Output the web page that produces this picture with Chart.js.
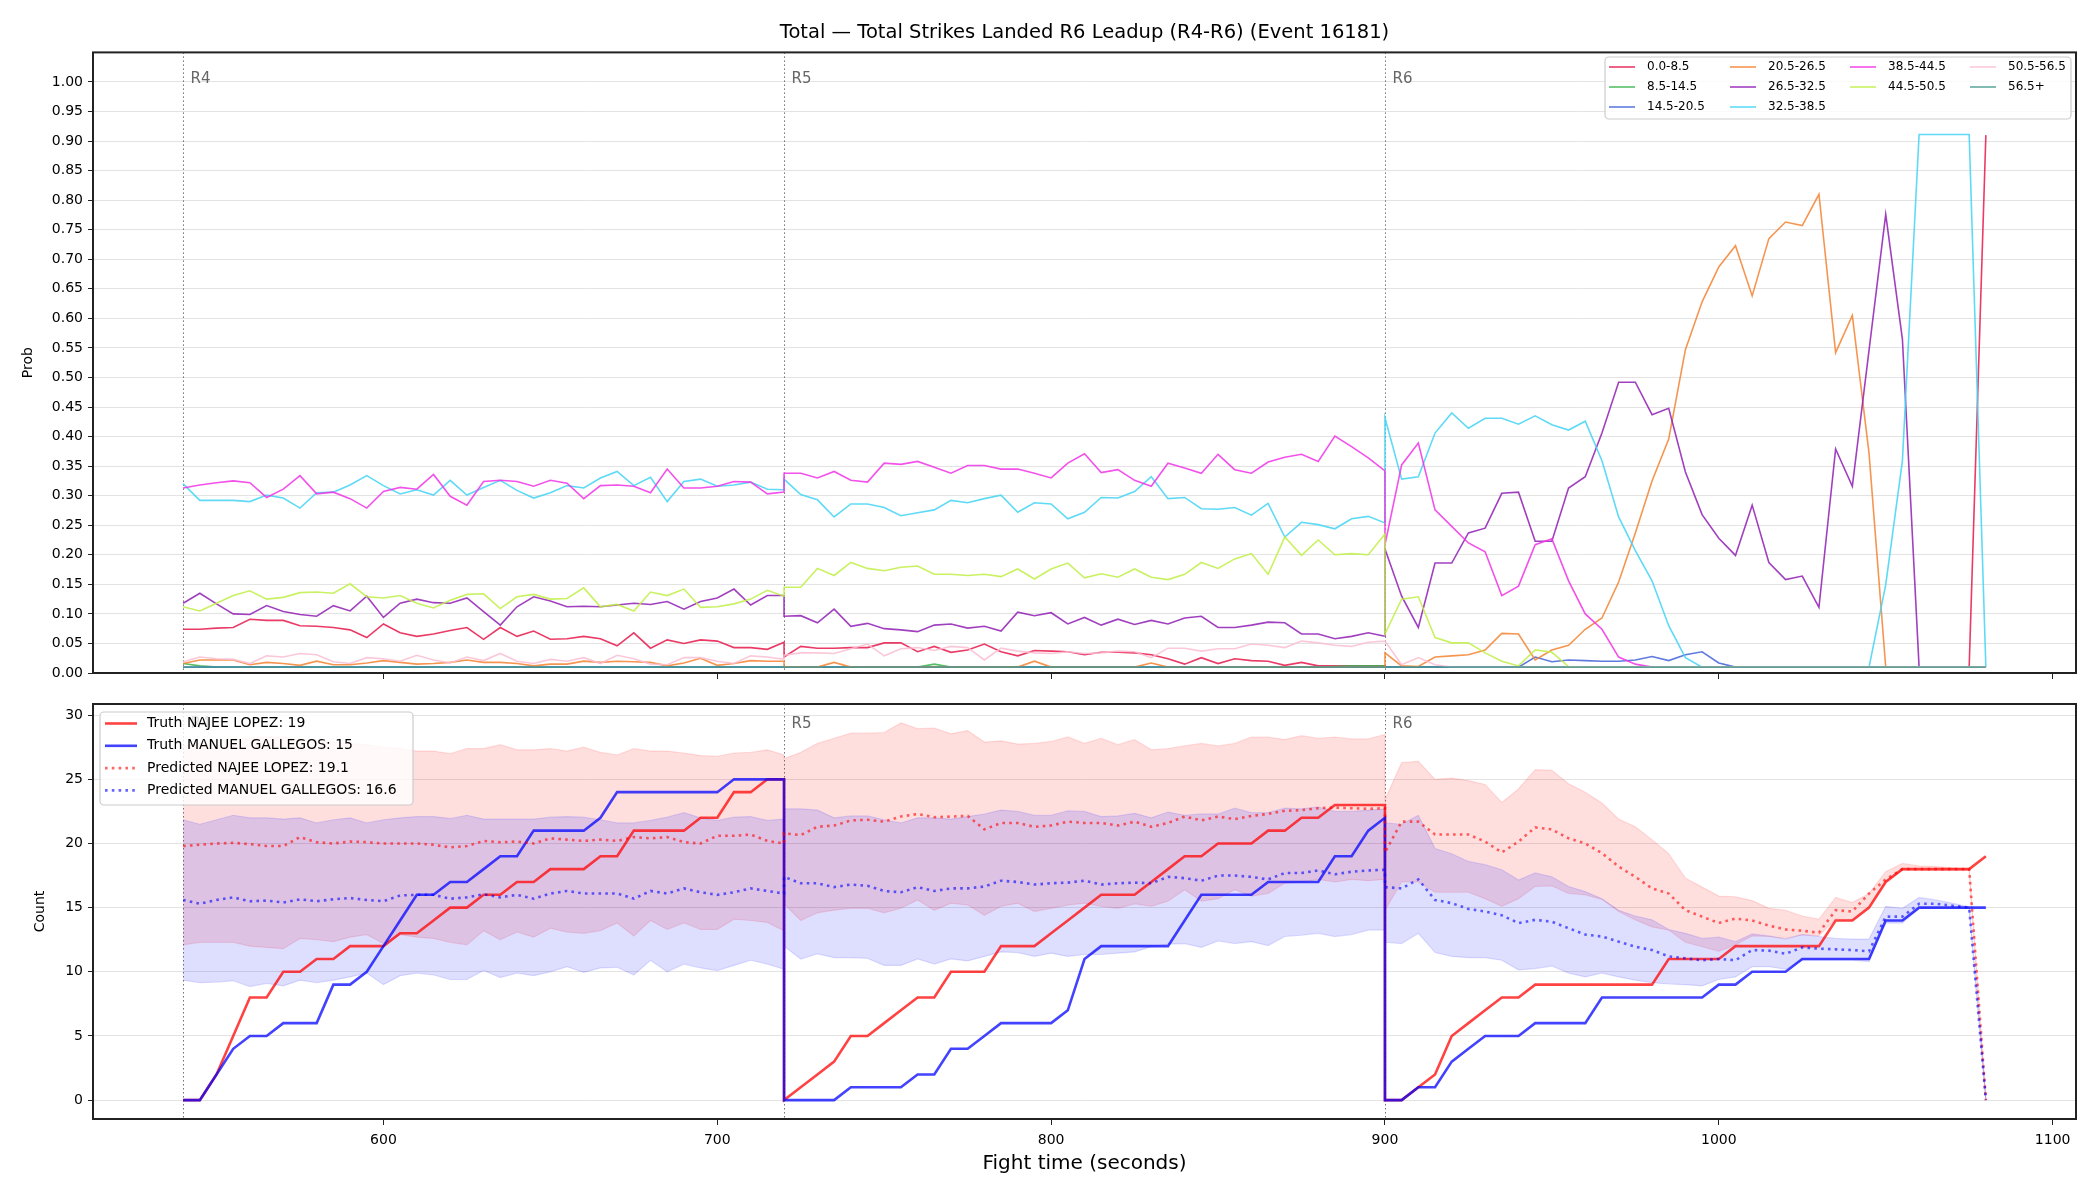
<!DOCTYPE html>
<html>
<head>
<meta charset="utf-8">
<title>Total Strikes Landed R6 Leadup</title>
<script src="https://cdn.jsdelivr.net/npm/chart.js@4.4.1/dist/chart.umd.min.js"></script>
<style>
  html, body { margin: 0; padding: 0; background: #fff; }
  #wrap { position: relative; width: 2100px; height: 1200px; }
  #probChart { position: absolute; left: 0; top: 0; }
  #countChart { position: absolute; left: 0; top: 690px; }
</style>
</head>
<body>
<div id="wrap">
  <canvas id="probChart" width="2100" height="690"></canvas>
  <canvas id="countChart" width="2100" height="510"></canvas>
</div>
<script>
// sample times (seconds), rounds R4 / R5 / R6, one sample every 5 s
const times = [
  540, 545, 550, 555, 560, 565, 570, 575, 580, 585, 590, 595, 600, 605, 610, 615, 620, 625, 630, 635, 640, 645, 650, 655, 660, 665, 670, 675, 680, 685, 690, 695, 700, 705, 710, 715, 720,
  720, 725, 730, 735, 740, 745, 750, 755, 760, 765, 770, 775, 780, 785, 790, 795, 800, 805, 810, 815, 820, 825, 830, 835, 840, 845, 850, 855, 860, 865, 870, 875, 880, 885, 890, 895, 900,
  900, 905, 910, 915, 920, 925, 930, 935, 940, 945, 950, 955, 960, 965, 970, 975, 980, 985, 990, 995, 1000, 1005, 1010, 1015, 1020, 1025, 1030, 1035, 1040, 1045, 1050, 1055, 1060, 1065, 1070, 1075, 1080
]
const roundStarts = [540, 720, 900]
const roundNames = ["R4", "R5", "R6"]

const buckets = ["0.0-8.5", "8.5-14.5", "14.5-20.5", "20.5-26.5", "26.5-32.5", "32.5-38.5", "38.5-44.5", "44.5-50.5", "50.5-56.5", "56.5+"]
const bucketColors = ["#e6194b", "#3cb44b", "#4363d8", "#f58231", "#911eb4", "#42d4f4", "#f032e6", "#bfef45", "#fabed4", "#469990"]

const p0_8 = [
  0.074, 0.074, 0.076, 0.077, 0.091, 0.089, 0.089, 0.080, 0.079, 0.077, 0.073, 0.060, 0.083, 0.068, 0.062, 0.066, 0.072, 0.077, 0.057, 0.077, 0.062, 0.071, 0.057, 0.058, 0.062, 0.058, 0.046, 0.068, 0.042, 0.056, 0.050, 0.056, 0.054, 0.043, 0.043, 0.040, 0.052,
  0.027, 0.045, 0.042, 0.042, 0.043, 0.043, 0.051, 0.051, 0.036, 0.045, 0.035, 0.039, 0.049, 0.036, 0.029, 0.038, 0.037, 0.036, 0.031, 0.035, 0.035, 0.034, 0.031, 0.024, 0.015, 0.026, 0.016, 0.024, 0.021, 0.020, 0.013, 0.018, 0.012, 0.012, 0.012, 0.012, 0.012,
  0.010, 0.010, 0.010, 0.010, 0.010, 0.010, 0.010, 0.010, 0.010, 0.010, 0.010, 0.010, 0.010, 0.010, 0.010, 0.010, 0.010, 0.010, 0.010, 0.010, 0.010, 0.010, 0.010, 0.010, 0.010, 0.010, 0.010, 0.010, 0.010, 0.010, 0.010, 0.010, 0.010, 0.010, 0.010, 0.010, 0.910
]
const p8_14 = [
  0.016, 0.012, 0.010, 0.010, 0.010, 0.010, 0.010, 0.010, 0.010, 0.010, 0.010, 0.010, 0.010, 0.010, 0.010, 0.010, 0.010, 0.010, 0.010, 0.010, 0.010, 0.010, 0.010, 0.010, 0.010, 0.010, 0.010, 0.010, 0.010, 0.010, 0.010, 0.010, 0.010, 0.010, 0.010, 0.010, 0.010,
  0.010, 0.010, 0.010, 0.010, 0.010, 0.010, 0.010, 0.010, 0.010, 0.015, 0.010, 0.010, 0.010, 0.010, 0.010, 0.010, 0.010, 0.010, 0.010, 0.010, 0.010, 0.010, 0.010, 0.010, 0.010, 0.010, 0.010, 0.010, 0.010, 0.010, 0.010, 0.010, 0.010, 0.011, 0.012, 0.012, 0.012,
  0.010, 0.010, 0.010, 0.010, 0.010, 0.010, 0.010, 0.010, 0.010, 0.010, 0.010, 0.010, 0.010, 0.010, 0.010, 0.010, 0.010, 0.010, 0.010, 0.010, 0.010, 0.010, 0.010, 0.010, 0.010, 0.010, 0.010, 0.010, 0.010, 0.010, 0.010, 0.010, 0.010, 0.010, 0.010, 0.010, 0.010
]
const p14_20 = [
  0.010, 0.010, 0.010, 0.010, 0.010, 0.010, 0.010, 0.010, 0.010, 0.010, 0.010, 0.010, 0.010, 0.010, 0.010, 0.010, 0.010, 0.010, 0.010, 0.010, 0.010, 0.010, 0.010, 0.010, 0.010, 0.010, 0.010, 0.010, 0.010, 0.010, 0.010, 0.010, 0.010, 0.010, 0.010, 0.010, 0.010,
  0.010, 0.010, 0.010, 0.010, 0.010, 0.010, 0.010, 0.010, 0.010, 0.010, 0.010, 0.010, 0.010, 0.010, 0.010, 0.010, 0.010, 0.010, 0.010, 0.010, 0.010, 0.010, 0.010, 0.010, 0.010, 0.010, 0.010, 0.010, 0.010, 0.010, 0.010, 0.010, 0.010, 0.010, 0.010, 0.010, 0.010,
  0.010, 0.010, 0.010, 0.010, 0.010, 0.010, 0.010, 0.010, 0.010, 0.027, 0.019, 0.022, 0.021, 0.020, 0.020, 0.022, 0.028, 0.021, 0.031, 0.036, 0.017, 0.010, 0.010, 0.010, 0.010, 0.010, 0.010, 0.010, 0.010, 0.010, 0.010, 0.010, 0.010, 0.010, 0.010, 0.010, 0.010
]
const p20_26 = [
  0.016, 0.022, 0.022, 0.022, 0.014, 0.018, 0.016, 0.013, 0.020, 0.014, 0.014, 0.017, 0.021, 0.018, 0.015, 0.016, 0.018, 0.022, 0.018, 0.018, 0.016, 0.012, 0.015, 0.015, 0.020, 0.018, 0.020, 0.019, 0.018, 0.012, 0.017, 0.025, 0.013, 0.016, 0.021, 0.020, 0.020,
  0.011, 0.010, 0.010, 0.018, 0.010, 0.010, 0.010, 0.010, 0.010, 0.010, 0.010, 0.010, 0.010, 0.010, 0.010, 0.020, 0.010, 0.010, 0.010, 0.010, 0.010, 0.010, 0.017, 0.010, 0.010, 0.010, 0.010, 0.010, 0.010, 0.010, 0.010, 0.010, 0.010, 0.010, 0.010, 0.010, 0.010,
  0.034, 0.012, 0.011, 0.027, 0.029, 0.031, 0.039, 0.067, 0.066, 0.022, 0.039, 0.047, 0.074, 0.093, 0.154, 0.237, 0.325, 0.396, 0.547, 0.628, 0.687, 0.723, 0.638, 0.735, 0.763, 0.757, 0.810, 0.542, 0.605, 0.372, 0.010, 0.010, 0.010, 0.010, 0.010, 0.010, 0.010
]
const p26_32 = [
  0.118, 0.135, 0.117, 0.100, 0.099, 0.114, 0.104, 0.099, 0.096, 0.114, 0.105, 0.130, 0.094, 0.118, 0.125, 0.119, 0.118, 0.127, 0.104, 0.081, 0.112, 0.129, 0.122, 0.112, 0.113, 0.112, 0.115, 0.118, 0.116, 0.121, 0.108, 0.121, 0.127, 0.142, 0.115, 0.131, 0.131,
  0.096, 0.097, 0.085, 0.108, 0.079, 0.084, 0.075, 0.073, 0.070, 0.081, 0.083, 0.076, 0.079, 0.071, 0.103, 0.097, 0.102, 0.083, 0.094, 0.081, 0.091, 0.082, 0.089, 0.083, 0.093, 0.096, 0.077, 0.077, 0.081, 0.086, 0.085, 0.066, 0.066, 0.058, 0.062, 0.068, 0.062,
  0.210, 0.130, 0.077, 0.186, 0.186, 0.237, 0.245, 0.304, 0.306, 0.223, 0.223, 0.313, 0.332, 0.406, 0.492, 0.492, 0.437, 0.448, 0.340, 0.268, 0.228, 0.199, 0.284, 0.187, 0.158, 0.164, 0.111, 0.379, 0.316, 0.546, 0.776, 0.565, 0.010, 0.010, 0.010, 0.010, 0.010
]
const p32_38 = [
  0.320, 0.292, 0.292, 0.292, 0.290, 0.301, 0.296, 0.279, 0.305, 0.306, 0.318, 0.334, 0.317, 0.303, 0.310, 0.301, 0.326, 0.301, 0.314, 0.326, 0.309, 0.296, 0.305, 0.317, 0.313, 0.330, 0.341, 0.317, 0.331, 0.290, 0.324, 0.328, 0.316, 0.318, 0.323, 0.311, 0.310,
  0.328, 0.302, 0.293, 0.264, 0.286, 0.286, 0.280, 0.266, 0.271, 0.276, 0.292, 0.288, 0.295, 0.301, 0.272, 0.288, 0.286, 0.261, 0.272, 0.297, 0.296, 0.307, 0.332, 0.295, 0.297, 0.278, 0.277, 0.280, 0.267, 0.287, 0.230, 0.255, 0.251, 0.244, 0.261, 0.265, 0.254,
  0.432, 0.328, 0.332, 0.406, 0.440, 0.414, 0.431, 0.431, 0.421, 0.435, 0.420, 0.411, 0.426, 0.359, 0.264, 0.207, 0.156, 0.080, 0.026, 0.010, 0.010, 0.010, 0.010, 0.010, 0.010, 0.010, 0.010, 0.010, 0.010, 0.010, 0.149, 0.359, 0.911, 0.911, 0.911, 0.911, 0.010
]
const p38_44 = [
  0.313, 0.318, 0.322, 0.325, 0.322, 0.297, 0.311, 0.334, 0.303, 0.306, 0.295, 0.279, 0.307, 0.314, 0.311, 0.336, 0.299, 0.284, 0.324, 0.326, 0.324, 0.316, 0.326, 0.321, 0.295, 0.317, 0.318, 0.316, 0.305, 0.345, 0.313, 0.313, 0.316, 0.324, 0.323, 0.303, 0.306,
  0.338, 0.338, 0.330, 0.341, 0.326, 0.323, 0.355, 0.353, 0.358, 0.348, 0.338, 0.351, 0.351, 0.345, 0.345, 0.338, 0.330, 0.355, 0.371, 0.339, 0.344, 0.326, 0.316, 0.355, 0.347, 0.338, 0.370, 0.344, 0.338, 0.357, 0.365, 0.370, 0.358, 0.401, 0.383, 0.364, 0.342,
  0.217, 0.352, 0.389, 0.276, 0.248, 0.220, 0.205, 0.131, 0.147, 0.217, 0.227, 0.156, 0.100, 0.074, 0.027, 0.015, 0.010, 0.010, 0.010, 0.010, 0.010, 0.010, 0.010, 0.010, 0.010, 0.010, 0.010, 0.010, 0.010, 0.010, 0.010, 0.010, 0.010, 0.010, 0.010, 0.010, 0.010
]
const p44_50 = [
  0.112, 0.105, 0.118, 0.131, 0.139, 0.125, 0.128, 0.136, 0.137, 0.135, 0.151, 0.129, 0.127, 0.131, 0.118, 0.110, 0.123, 0.133, 0.134, 0.109, 0.129, 0.133, 0.125, 0.126, 0.144, 0.112, 0.116, 0.105, 0.137, 0.131, 0.142, 0.111, 0.112, 0.117, 0.125, 0.140, 0.130,
  0.145, 0.145, 0.177, 0.165, 0.187, 0.177, 0.173, 0.179, 0.181, 0.167, 0.167, 0.165, 0.167, 0.163, 0.176, 0.159, 0.176, 0.186, 0.161, 0.168, 0.162, 0.176, 0.162, 0.158, 0.167, 0.187, 0.177, 0.193, 0.202, 0.167, 0.230, 0.199, 0.225, 0.200, 0.202, 0.200, 0.235,
  0.066, 0.125, 0.129, 0.060, 0.051, 0.051, 0.034, 0.020, 0.012, 0.039, 0.035, 0.011, 0.010, 0.010, 0.010, 0.010, 0.010, 0.010, 0.010, 0.010, 0.010, 0.010, 0.010, 0.010, 0.010, 0.010, 0.010, 0.010, 0.010, 0.010, 0.010, 0.010, 0.010, 0.010, 0.010, 0.010, 0.010
]
const p50_56 = [
  0.019, 0.027, 0.024, 0.023, 0.016, 0.029, 0.027, 0.033, 0.031, 0.019, 0.016, 0.026, 0.024, 0.020, 0.030, 0.022, 0.017, 0.027, 0.021, 0.033, 0.020, 0.016, 0.023, 0.020, 0.026, 0.016, 0.030, 0.024, 0.015, 0.014, 0.026, 0.026, 0.020, 0.016, 0.029, 0.027, 0.023,
  0.030, 0.034, 0.034, 0.033, 0.041, 0.049, 0.029, 0.041, 0.043, 0.038, 0.045, 0.043, 0.022, 0.042, 0.037, 0.034, 0.033, 0.036, 0.033, 0.034, 0.037, 0.036, 0.026, 0.042, 0.042, 0.037, 0.041, 0.041, 0.049, 0.047, 0.043, 0.054, 0.051, 0.047, 0.045, 0.052, 0.054,
  0.054, 0.014, 0.026, 0.014, 0.010, 0.010, 0.010, 0.010, 0.010, 0.010, 0.010, 0.010, 0.010, 0.010, 0.010, 0.010, 0.010, 0.010, 0.010, 0.010, 0.010, 0.010, 0.010, 0.010, 0.010, 0.010, 0.010, 0.010, 0.010, 0.010, 0.010, 0.010, 0.010, 0.010, 0.010, 0.010, 0.010
]
const p56plus = [
  0.010, 0.010, 0.010, 0.010, 0.010, 0.010, 0.010, 0.010, 0.010, 0.010, 0.010, 0.010, 0.010, 0.010, 0.010, 0.010, 0.010, 0.010, 0.010, 0.010, 0.010, 0.010, 0.010, 0.010, 0.010, 0.010, 0.010, 0.010, 0.010, 0.010, 0.010, 0.010, 0.010, 0.010, 0.010, 0.010, 0.010,
  0.010, 0.010, 0.010, 0.010, 0.010, 0.010, 0.010, 0.010, 0.010, 0.010, 0.010, 0.010, 0.010, 0.010, 0.010, 0.010, 0.010, 0.010, 0.010, 0.010, 0.010, 0.010, 0.010, 0.010, 0.010, 0.010, 0.010, 0.010, 0.010, 0.010, 0.010, 0.010, 0.010, 0.010, 0.010, 0.010, 0.010,
  0.010, 0.010, 0.010, 0.010, 0.010, 0.010, 0.010, 0.010, 0.010, 0.010, 0.010, 0.010, 0.010, 0.010, 0.010, 0.010, 0.010, 0.010, 0.010, 0.010, 0.010, 0.010, 0.010, 0.010, 0.010, 0.010, 0.010, 0.010, 0.010, 0.010, 0.010, 0.010, 0.010, 0.010, 0.010, 0.010, 0.010
]
const bucketProbs = [p0_8, p8_14, p14_20, p20_26, p26_32, p32_38, p38_44, p44_50, p50_56, p56plus]

// bottom panel: cumulative counts per fighter
const fighterA = "NAJEE LOPEZ"
const fighterB = "MANUEL GALLEGOS"
const truthA = [
  0, 0, 2, 5, 8, 8, 10, 10, 11, 11, 12, 12, 12, 13, 13, 14, 15, 15, 16, 16, 17, 17, 18, 18, 18, 19, 19, 21, 21, 21, 21, 22, 22, 24, 24, 25, 25,
  0, 1, 2, 3, 5, 5, 6, 7, 8, 8, 10, 10, 10, 12, 12, 12, 13, 14, 15, 16, 16, 16, 17, 18, 19, 19, 20, 20, 20, 21, 21, 22, 22, 23, 23, 23, 23,
  0, 0, 1, 2, 5, 6, 7, 8, 8, 9, 9, 9, 9, 9, 9, 9, 9, 11, 11, 11, 11, 12, 12, 12, 12, 12, 12, 14, 14, 15, 17, 18, 18, 18, 18, 18, 19
]
const truthB = [
  0, 0, 2, 4, 5, 5, 6, 6, 6, 9, 9, 10, 12, 14, 16, 16, 17, 17, 18, 19, 19, 21, 21, 21, 21, 22, 24, 24, 24, 24, 24, 24, 24, 25, 25, 25, 25,
  0, 0, 0, 0, 1, 1, 1, 1, 2, 2, 4, 4, 5, 6, 6, 6, 6, 7, 11, 12, 12, 12, 12, 12, 14, 16, 16, 16, 16, 17, 17, 17, 17, 19, 19, 21, 22,
  0, 0, 1, 1, 3, 4, 5, 5, 5, 6, 6, 6, 6, 8, 8, 8, 8, 8, 8, 8, 9, 9, 10, 10, 10, 11, 11, 11, 11, 11, 14, 14, 15, 15, 15, 15, 15
]
const predA = [
  19.8, 19.9, 20.0, 20.05, 19.95, 19.8, 19.8, 20.5, 20.1, 20.0, 20.15, 20.1, 20.0, 20.0, 20.0, 19.9, 19.7, 19.8, 20.2, 20.1, 20.15, 20.0, 20.4, 20.3, 20.2, 20.3, 20.2, 20.5, 20.4, 20.5, 20.1, 20.0, 20.6, 20.6, 20.7, 20.2, 20.0,
  20.8, 20.65, 21.3, 21.4, 21.8, 21.85, 21.7, 22.1, 22.3, 22.05, 22.1, 22.15, 21.1, 21.6, 21.6, 21.3, 21.4, 21.7, 21.6, 21.6, 21.4, 21.7, 21.3, 21.6, 22.1, 21.8, 22.1, 21.9, 22.15, 22.3, 22.55, 22.6, 22.75, 22.8, 22.75, 22.7, 22.75,
  19.3, 21.7, 21.7, 20.7, 20.7, 20.7, 20.15, 19.3, 20.15, 21.25, 21.1, 20.4, 20.0, 19.25, 18.2, 17.4, 16.5, 16.1, 14.8, 14.3, 13.8, 14.15, 14.0, 13.6, 13.3, 13.2, 13.05, 14.8, 14.7, 16.1, 17.2, 18.0, 18.0, 18.0, 18.0, 18.0, 0
]
const predB = [
  15.6, 15.3, 15.6, 15.8, 15.5, 15.55, 15.4, 15.65, 15.5, 15.65, 15.75, 15.6, 15.5, 15.95, 16.0, 16.0, 15.7, 15.8, 16.05, 15.8, 16.0, 15.7, 16.1, 16.3, 16.1, 16.1, 16.1, 15.7, 16.3, 16.1, 16.5, 16.2, 16.0, 16.2, 16.5, 16.3, 16.1,
  17.4, 16.9, 16.9, 16.6, 16.8, 16.7, 16.3, 16.2, 16.6, 16.3, 16.5, 16.5, 16.65, 17.1, 17.0, 16.8, 16.9, 16.95, 17.1, 16.8, 16.9, 16.95, 16.9, 17.4, 17.3, 17.1, 17.5, 17.5, 17.4, 17.2, 17.7, 17.7, 17.9, 17.6, 17.8, 17.9, 17.95,
  16.6, 16.5, 17.2, 15.6, 15.35, 14.9, 14.7, 14.4, 13.8, 14.05, 13.9, 13.4, 12.9, 12.75, 12.35, 11.95, 11.7, 11.2, 11.05, 10.9, 11.0, 10.9, 11.7, 11.65, 11.4, 11.9, 11.8, 11.75, 11.7, 11.6, 14.3, 14.3, 15.3, 15.3, 15.15, 15.0, 0
]
const bandAHigh = [
  27.6, 27.8, 28.0, 28.1, 28.2, 28.3, 28.3, 28.1, 28.0, 27.9, 27.8, 27.7, 27.5, 27.4, 27.2, 27.2, 27.0, 27.4, 27.4, 27.7, 27.3, 27.3, 27.4, 27.2, 27.5, 27.1, 26.9, 27.4, 27.2, 27.2, 27.05, 26.85, 26.8, 27.05, 27.1, 27.3, 26.9,
  26.6, 27.1, 27.8, 28.2, 28.6, 28.6, 28.65, 29.4, 28.95, 29.0, 28.55, 28.8, 27.9, 28.0, 27.75, 27.8, 27.95, 28.3, 27.8, 28.2, 27.7, 28.1, 27.3, 27.4, 27.6, 27.8, 27.6, 27.8, 28.3, 28.3, 28.1, 28.4, 28.2, 28.3, 28.15, 28.15, 28.5,
  23.4, 26.3, 26.4, 25.0, 25.1, 24.9, 24.6, 23.2, 24.25, 25.75, 25.7, 24.65, 24.0, 23.15, 21.9, 21.3, 20.3, 19.2, 17.3, 16.6, 15.9, 15.85, 15.55, 14.95, 14.8, 14.35, 14.1, 15.8, 15.4, 16.1, 17.8, 18.45, 18.25, 18.2, 18.1, 18.0, 0
]
const bandALow = [
  12.1, 12.3, 12.3, 12.3, 12.0, 11.9, 11.8, 12.6, 12.5, 12.35, 12.7, 12.9, 12.2, 12.9, 12.7, 12.6, 12.3, 12.1, 13.2, 12.5, 13.1, 12.7, 13.4, 13.1, 13.0, 13.2, 13.8, 12.8, 14.0, 13.3, 13.8, 13.3, 13.3, 14.1, 14.0, 13.85, 13.2,
  15.3, 14.0, 14.6, 14.8, 14.95, 14.95, 14.6, 14.95, 15.6, 14.8, 15.35, 15.2, 14.4, 15.1, 15.35, 14.7, 14.95, 15.2, 15.35, 15.1, 14.95, 15.3, 15.1, 15.5, 16.4, 15.5, 15.7, 16.4, 15.9, 16.1, 16.9, 17.0, 17.2, 17.0, 17.2, 17.1, 17.2,
  14.8, 17.0, 17.0, 16.2, 16.2, 16.2, 15.7, 15.1, 15.7, 16.65, 16.7, 16.1, 16.0, 15.65, 14.7, 14.05, 13.5, 13.25, 12.3, 11.95, 11.6, 12.1, 12.8, 12.75, 12.6, 12.9, 12.8, 14.1, 14.05, 15.1, 17.0, 17.95, 17.9, 17.9, 17.9, 17.9, 0
]
const bandBHigh = [
  21.85, 21.5, 21.85, 22.2, 22.0, 22.0, 21.9, 22.0, 21.6, 21.85, 22.0, 21.6, 21.85, 22.0, 22.1, 22.1, 21.95, 22.2, 21.9, 21.9, 21.9, 21.9, 22.05, 22.1, 22.05, 21.85, 21.6, 21.6, 21.8, 22.05, 22.4, 22.0, 21.8, 22.05, 22.1, 21.8, 21.9,
  22.7, 22.7, 22.6, 22.0, 22.15, 22.15, 21.85, 21.6, 22.0, 22.0, 21.9, 22.1, 22.3, 22.6, 22.5, 22.2, 22.2, 22.55, 22.5, 22.1, 22.15, 22.35, 22.0, 22.45, 22.2, 22.3, 22.3, 22.75, 22.4, 22.4, 22.75, 22.7, 22.85, 22.5, 22.5, 22.6, 22.7,
  21.6, 21.5, 22.2, 19.6, 19.2, 18.6, 18.35, 17.95, 17.15, 17.7, 17.4, 16.65, 16.25, 15.7, 14.8, 14.35, 14.05, 13.3, 13.0, 12.6, 12.7, 12.35, 12.95, 12.8, 12.55, 12.9, 12.75, 12.6, 12.55, 12.55, 15.1, 14.95, 15.8, 15.6, 15.35, 15.05, 0
]
const bandBLow = [
  9.35, 9.15, 9.2, 9.3, 8.85, 9.1, 8.9, 9.35, 9.15, 9.35, 9.6, 9.9, 9.0, 9.7, 9.9, 9.75, 9.4, 9.4, 10.1, 9.55, 9.9, 9.7, 10.0, 10.4, 9.95, 10.3, 10.35, 9.75, 10.9, 10.0, 10.6, 10.3, 10.1, 10.5, 10.9, 10.6, 10.2,
  12.0, 11.0, 11.4, 11.1, 11.1, 11.05, 10.5, 10.5, 11.0, 10.6, 11.0, 10.85, 11.2, 11.55, 11.5, 11.2, 11.45, 11.2, 11.35, 11.35, 11.45, 11.55, 11.95, 12.15, 12.2, 11.9, 12.4, 12.2, 12.35, 12.05, 12.75, 12.85, 13.0, 12.75, 12.9, 13.25, 13.25,
  12.3, 12.2, 13.0, 11.5, 11.2, 11.1, 11.1, 10.9, 10.15, 10.25, 10.45, 9.9, 9.6, 9.9, 9.6, 9.35, 9.15, 9.05, 9.0, 8.9, 9.4, 9.6, 10.4, 10.4, 10.2, 10.9, 10.9, 10.9, 10.9, 10.8, 13.8, 13.8, 14.95, 14.95, 14.95, 14.95, 0
]
const finalA = "19", finalB = "15", predFinalA = "19.1", predFinalB = "16.6"

const timeTicks = [600, 700, 800, 900, 1000, 1100]
const probTicks = [0, 0.05, 0.1, 0.15, 0.2, 0.25, 0.3, 0.35, 0.4, 0.45, 0.5, 0.55, 0.6, 0.65, 0.7, 0.75, 0.8, 0.85, 0.9, 0.95, 1.0]
const countTicks = [0, 5, 10, 15, 20, 25, 30]

Chart.defaults.font.family = "'DejaVu Sans', 'Liberation Sans', sans-serif"
Chart.defaults.color = "#000"
Chart.defaults.animation = false

const pts = (ys) => times.map((t, i) => ({ x: t, y: ys[i] }))
const GRID = "#e3e3e3"

// matplotlib-like black frame round the plot area
const frame = {
  id: "frame",
  afterDraw(chart) {
    const { ctx, chartArea: a } = chart
    ctx.save()
    ctx.strokeStyle = "#222"
    ctx.lineWidth = 2
    ctx.strokeRect(a.left, a.top, a.right - a.left, a.bottom - a.top)
    ctx.restore()
  }
}

// dotted round separators + R4/R5/R6 labels
const roundMarks = {
  id: "roundMarks",
  beforeDatasetsDraw(chart, args, opts) {
    const { ctx, chartArea: a, scales } = chart
    ctx.save()
    roundStarts.forEach((t, i) => {
      const x = Math.round(scales.x.getPixelForValue(t)) + 0.5
      ctx.strokeStyle = "rgba(0,0,0,0.55)"
      ctx.lineWidth = 1
      ctx.setLineDash([1.5, 2.5])
      ctx.beginPath()
      ctx.moveTo(x, a.top)
      ctx.lineTo(x, a.bottom)
      ctx.stroke()
      ctx.setLineDash([])
      ctx.fillStyle = "#666"
      ctx.font = "15px 'DejaVu Sans'"
      ctx.textBaseline = "middle"
      ctx.fillText(roundNames[i], x + 7, a.top + opts.labelOffset)
    })
    ctx.restore()
  }
}

// boxed legend laid out in columns like matplotlib
const boxLegend = {
  id: "boxLegend",
  afterDraw(chart, args, o) {
    const { ctx } = chart
    const items = chart.data.datasets.filter(d => d.inLegend)
    ctx.save()
    ctx.fillStyle = "rgba(255,255,255,0.8)"
    ctx.strokeStyle = "#cccccc"
    ctx.lineWidth = 1.2
    ctx.beginPath()
    ctx.roundRect(o.x, o.y, o.w, o.h, 4)
    ctx.fill()
    ctx.stroke()
    ctx.font = o.fontSize + "px 'DejaVu Sans'"
    ctx.textBaseline = "middle"
    let i = 0
    o.colSizes.forEach((n, c) => {
      for (let r = 0; r < n; r++, i++) {
        const d = items[i]
        const lx = o.x + o.colX[c]
        const ly = o.y + o.rowY0 + r * o.rowH
        ctx.strokeStyle = d.borderColor
        ctx.lineWidth = d.borderWidth
        ctx.setLineDash(d.borderDash || [])
        ctx.beginPath()
        ctx.moveTo(lx, ly)
        ctx.lineTo(lx + o.lineLen, ly)
        ctx.stroke()
        ctx.setLineDash([])
        ctx.fillStyle = "#000"
        ctx.fillText(d.label, lx + o.textGap, ly)
      }
    })
    ctx.restore()
  }
}

const xScale = (showLabels, h) => ({
  type: "linear",
  min: 513,
  max: 1107,
  afterBuildTicks: (s) => { s.ticks = timeTicks.map(v => ({ value: v })) },
  afterFit: (s) => { s.height = h },
  grid: { display: true, drawOnChartArea: false, drawTicks: true, tickLength: 6, tickColor: "#222" },
  border: { display: false },
  ticks: { display: showLabels, font: { size: 14 }, padding: 7, maxRotation: 0, color: "#000", callback: (v) => String(v) }
})

// ---- top panel: bucket probabilities
new Chart(document.getElementById("probChart"), {
  type: "line",
  data: {
    datasets: buckets.map((b, i) => ({
      label: b,
      inLegend: true,
      data: pts(bucketProbs[i]),
      borderColor: bucketColors[i] + "d9",
      borderWidth: 1.6,
      pointRadius: 0,
      tension: 0,
      fill: false,
      order: buckets.length - i
    }))
  },
  options: {
    responsive: false,
    devicePixelRatio: 1,
    events: [],
    layout: { padding: { top: 0, right: 24, bottom: 0, left: 0 } },
    scales: {
      x: xScale(false, 17),
      y: {
        min: 0,
        max: 1.05,
        afterBuildTicks: (s) => { s.ticks = probTicks.map(v => ({ value: v })) },
        afterFit: (s) => { s.width = 93 },
        grid: { color: GRID, lineWidth: 1, tickLength: 5, tickColor: "#222" },
        border: { display: false },
        ticks: { font: { size: 14 }, padding: 5, color: "#000", callback: (v) => Number(v).toFixed(2) },
        title: { display: true, text: "Prob", font: { size: 14 }, padding: { top: 20, bottom: 0 }, color: "#000" }
      }
    },
    plugins: {
      legend: { display: false },
      tooltip: { enabled: false },
      title: {
        display: true,
        fullSize: false,
        text: "Total \u2014 Total Strikes Landed R6 Leadup (R4-R6) (Event 16181)",
        font: { size: 19.5, weight: "normal" },
        color: "#000",
        padding: { top: 21, bottom: 8 }
      },
      roundMarks: { labelOffset: 27 },
      boxLegend: {
        x: 1605, y: 57, w: 466, h: 62,
        colSizes: [3, 3, 2, 2],
        colX: [4, 125, 245, 365],
        rowY0: 10, rowH: 20,
        lineLen: 26, textGap: 38, fontSize: 12
      }
    }
  },
  plugins: [roundMarks, frame, boxLegend]
})

// ---- bottom panel: counts, truth vs predicted with ranges
const RED = "255,0,0", BLUE = "0,0,255"
new Chart(document.getElementById("countChart"), {
  type: "line",
  data: {
    datasets: [
      { label: "Truth " + fighterA + ": " + finalA, inLegend: true, data: pts(truthA), borderColor: `rgba(${RED},0.74)`, borderWidth: 2.6, order: 4 },
      { label: "Truth " + fighterB + ": " + finalB, inLegend: true, data: pts(truthB), borderColor: `rgba(${BLUE},0.74)`, borderWidth: 2.6, order: 3 },
      { label: "Predicted " + fighterA + ": " + predFinalA, inLegend: true, data: pts(predA), borderColor: `rgba(${RED},0.6)`, borderWidth: 2.6, borderDash: [2.6, 4.2], order: 2 },
      { label: "Predicted " + fighterB + ": " + predFinalB, inLegend: true, data: pts(predB), borderColor: `rgba(${BLUE},0.6)`, borderWidth: 2.6, borderDash: [2.6, 4.2], order: 1 },
      { label: "A high", data: pts(bandAHigh), borderColor: `rgba(${RED},0.12)`, borderWidth: 1.2, backgroundColor: `rgba(${RED},0.13)`, fill: "+1", order: 10 },
      { label: "A low", data: pts(bandALow), borderColor: `rgba(${RED},0.12)`, borderWidth: 1.2, order: 10 },
      { label: "B high", data: pts(bandBHigh), borderColor: `rgba(${BLUE},0.12)`, borderWidth: 1.2, backgroundColor: `rgba(${BLUE},0.13)`, fill: "+1", order: 9 },
      { label: "B low", data: pts(bandBLow), borderColor: `rgba(${BLUE},0.12)`, borderWidth: 1.2, order: 9 }
    ].map(d => Object.assign({ pointRadius: 0, tension: 0, fill: false }, d))
  },
  options: {
    responsive: false,
    devicePixelRatio: 1,
    events: [],
    layout: { padding: { top: 14, right: 24, bottom: 0, left: 0 } },
    scales: {
      x: Object.assign(xScale(true, 81), {
        title: { display: true, text: "Fight time (seconds)", font: { size: 20 }, padding: { top: 0, bottom: 24 }, color: "#000" }
      }),
      y: {
        min: -1.47,
        max: 30.87,
        afterBuildTicks: (s) => { s.ticks = countTicks.map(v => ({ value: v })) },
        afterFit: (s) => { s.width = 93 },
        grid: { color: GRID, lineWidth: 1, tickLength: 5, tickColor: "#222" },
        border: { display: false },
        ticks: { font: { size: 14 }, padding: 5, color: "#000" },
        title: { display: true, text: "Count", font: { size: 14 }, padding: { top: 32, bottom: 0 }, color: "#000" }
      }
    },
    plugins: {
      legend: { display: false },
      tooltip: { enabled: false },
      roundMarks: { labelOffset: 20 },
      boxLegend: {
        x: 100, y: 22, w: 313, h: 93,
        colSizes: [4],
        colX: [5],
        rowY0: 11.5, rowH: 22.3,
        lineLen: 32, textGap: 42, fontSize: 14
      }
    }
  },
  plugins: [roundMarks, frame, boxLegend]
})
</script>
</body>
</html>
